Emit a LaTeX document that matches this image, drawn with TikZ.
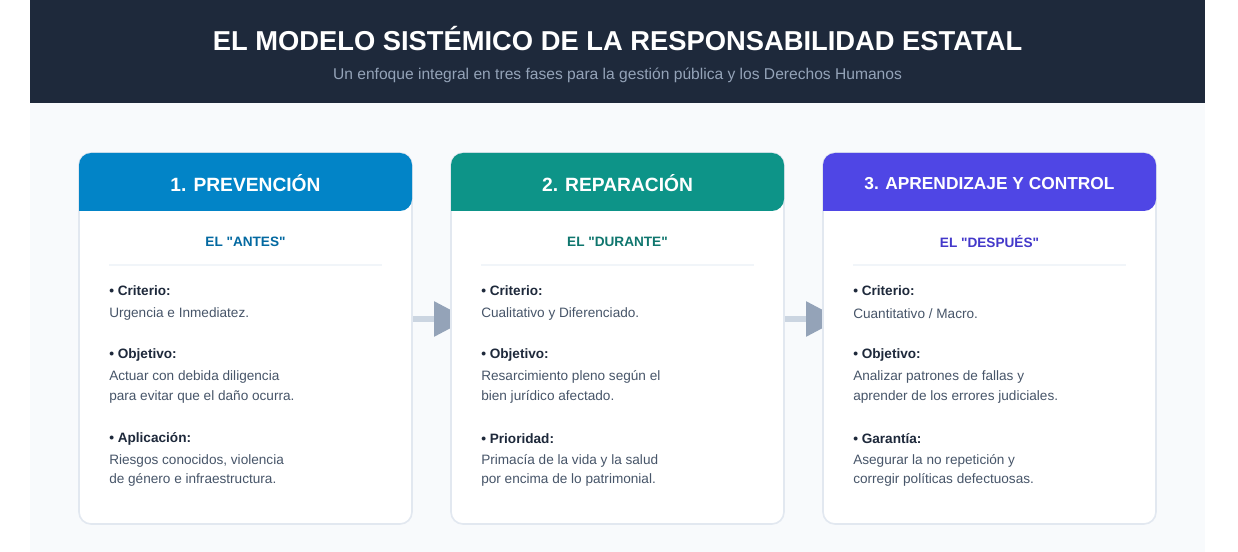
\documentclass[tikz,border=0pt]{standalone}
\usepackage{fontspec}
\setmainfont{Liberation Sans}[Ligatures=TeXOff]
\usetikzlibrary{positioning,arrows.meta}

\definecolor{oscuro}{HTML}{1E293B}
\definecolor{gristexto}{HTML}{94A3B8}
\definecolor{fondo}{HTML}{F8FAFC}
\definecolor{borde}{HTML}{E2E8F0}
\definecolor{linea}{HTML}{F1F5F9}
\definecolor{cuerpo}{HTML}{475569}
\definecolor{barra}{HTML}{CBD5E1}
\definecolor{azul}{HTML}{0284C7}
\definecolor{azulosc}{HTML}{0369A1}
\definecolor{verde}{HTML}{0D9488}
\definecolor{verdeosc}{HTML}{0F766E}
\definecolor{indigo}{HTML}{4F46E5}
\definecolor{indigoosc}{HTML}{4338CA}

\newcommand\ftit{\fontsize{20.5pt}{24pt}\selectfont\bfseries}
\newcommand\fsub{\fontsize{11.7pt}{14pt}\selectfont}
\newcommand\fetapa{\fontsize{14.4pt}{17pt}\selectfont\bfseries}
\newcommand\fetapachica{\fontsize{13pt}{16pt}\selectfont\bfseries}
\newcommand\fmom{\fontsize{10.2pt}{12pt}\selectfont\bfseries}
\newcommand\fcuerpo{\fontsize{10.2pt}{14.6pt}\selectfont}

\pgfdeclarelayer{atras}
\pgfsetlayers{atras,main}

\tikzset{
	tarjeta/.style={draw=borde, line width=1.2pt, fill=white, rounded corners=9pt,
		minimum width=249.75pt, minimum height=278.25pt, inner sep=0pt, outer sep=0pt},
	etapa/.style={text=white, font=\fetapa, inner sep=0pt},
	momento/.style={font=\fmom, inner sep=0pt},
	rotulo/.style={anchor=west, text=oscuro, font=\fmom, inner sep=0pt},
	texto/.style={anchor=west, text=cuerpo, font=\fcuerpo, align=left, inner sep=0pt},
	separa/.style={draw=linea, line width=1.2pt},
	flecha/.style={draw=barra, line width=4.5pt, shorten >=-12.75pt,
		-{Triangle[length=25.5pt,width=25.5pt,color=gristexto]}}
}

\begin{document}
\begin{tikzpicture}[x=0.75pt,y=0.75pt,yscale=-1,xscale=1]
	\useasboundingbox (0,0) rectangle (1238,552);
	
	\begin{pgfonlayer}{atras}
		\fill[white] (0,0) rectangle (1238,552);
		% cabecera y fondo
		\fill[oscuro] (30,0) rectangle (1205,103);
		\fill[fondo] (30,103) rectangle (1205,552);
	\end{pgfonlayer}
	
	% Text Node
	\node[text=white, font=\ftit, inner sep=0pt] (titulo) at (617.5,39) {EL MODELO SISTÉMICO DE LA RESPONSABILIDAD ESTATAL};
	% Text Node
	\node[text=gristexto, font=\fsub, inner sep=0pt] (subtitulo) at (617.5,75) {Un enfoque integral en tres fases para la gestión pública y los Derechos Humanos};
	
	% tarjetas
	\node[tarjeta] (prev) at (245.5,338.5) {};
	\node[tarjeta] (rep) at (617.5,338.5) {};
	\node[tarjeta] (apr) at (989.5,338.5) {};
	
	% cabeceras de las tarjetas
	\fill[azul] (79,211) [rounded corners=9pt] -- (79,153) -- (412,153) -- (412,211) [sharp corners] -- cycle;
	\fill[verde] (451,211) [rounded corners=9pt] -- (451,153) -- (784,153) -- (784,211) [sharp corners] -- cycle;
	\fill[indigo] (823,211) [rounded corners=9pt] -- (823,153) -- (1156,153) -- (1156,211) [sharp corners] -- cycle;
	
	% flechas entre fases
	\coordinate (f1) at (431,319);
	\coordinate (f2) at (803,319);
	\begin{pgfonlayer}{atras}
		\draw[flecha] (prev.east |- f1) -- (rep.west |- f1);
		\draw[flecha] (rep.east |- f2) -- (apr.west |- f2);
	\end{pgfonlayer}
	
	% 1. Prevencion
	\node[etapa] (prevtit) at (245.5,183) {1. PREVENCIÓN};
	\node[momento, text=azulosc] (prevmom) at (245.5,242) {EL "ANTES"};
	\draw[separa] (109,265) -- (382,265);
	\node[rotulo] (prevcrit) at (109,291) {• Criterio:};
	\node[texto] (prevcritx) at (109,313.5) {Urgencia e Inmediatez.};
	\node[rotulo] (prevobj) at (109,354.5) {• Objetivo:};
	\node[texto] (prevobjx) at (109,387) {Actuar con debida diligencia\\para evitar que el daño ocurra.};
	\node[rotulo] (prevapl) at (109,438.5) {• Aplicación:};
	\node[texto] (prevaplx) at (109,470.5) {Riesgos conocidos, violencia\\de género e infraestructura.};
	
	% 2. Reparacion
	\node[etapa] (reptit) at (617.5,183) {2. REPARACIÓN};
	\node[momento, text=verdeosc] (repmom) at (617.5,242) {EL "DURANTE"};
	\draw[separa] (481,265) -- (754,265);
	\node[rotulo] (repcrit) at (481,291) {• Criterio:};
	\node[texto] (repcritx) at (481,313.5) {Cualitativo y Diferenciado.};
	\node[rotulo] (repobj) at (481,354.5) {• Objetivo:};
	\node[texto] (repobjx) at (481,387) {Resarcimiento pleno según el\\bien jurídico afectado.};
	\node[rotulo] (reppri) at (481,438.5) {• Prioridad:};
	\node[texto] (repprix) at (481,470.5) {Primacía de la vida y la salud\\por encima de lo patrimonial.};
	
	% 3. Aprendizaje y control
	\node[etapa, font=\fetapachica] (aprtit) at (989.5,184) {3. APRENDIZAJE Y CONTROL};
	\node[momento, text=indigoosc] (aprmom) at (989.5,242) {EL "DESPUÉS"};
	\draw[separa] (853,265) -- (1126,265);
	\node[rotulo] (aprcrit) at (853,291) {• Criterio:};
	\node[texto] (aprcritx) at (853,313.5) {Cuantitativo / Macro.};
	\node[rotulo] (aprobj) at (853,354.5) {• Objetivo:};
	\node[texto] (aprobjx) at (853,387) {Analizar patrones de fallas y\\aprender de los errores judiciales.};
	\node[rotulo] (aprgar) at (853,438.5) {• Garantía:};
	\node[texto] (aprgarx) at (853,470.5) {Asegurar la no repetición y\\corregir políticas defectuosas.};
	
\end{tikzpicture}
\end{document}
